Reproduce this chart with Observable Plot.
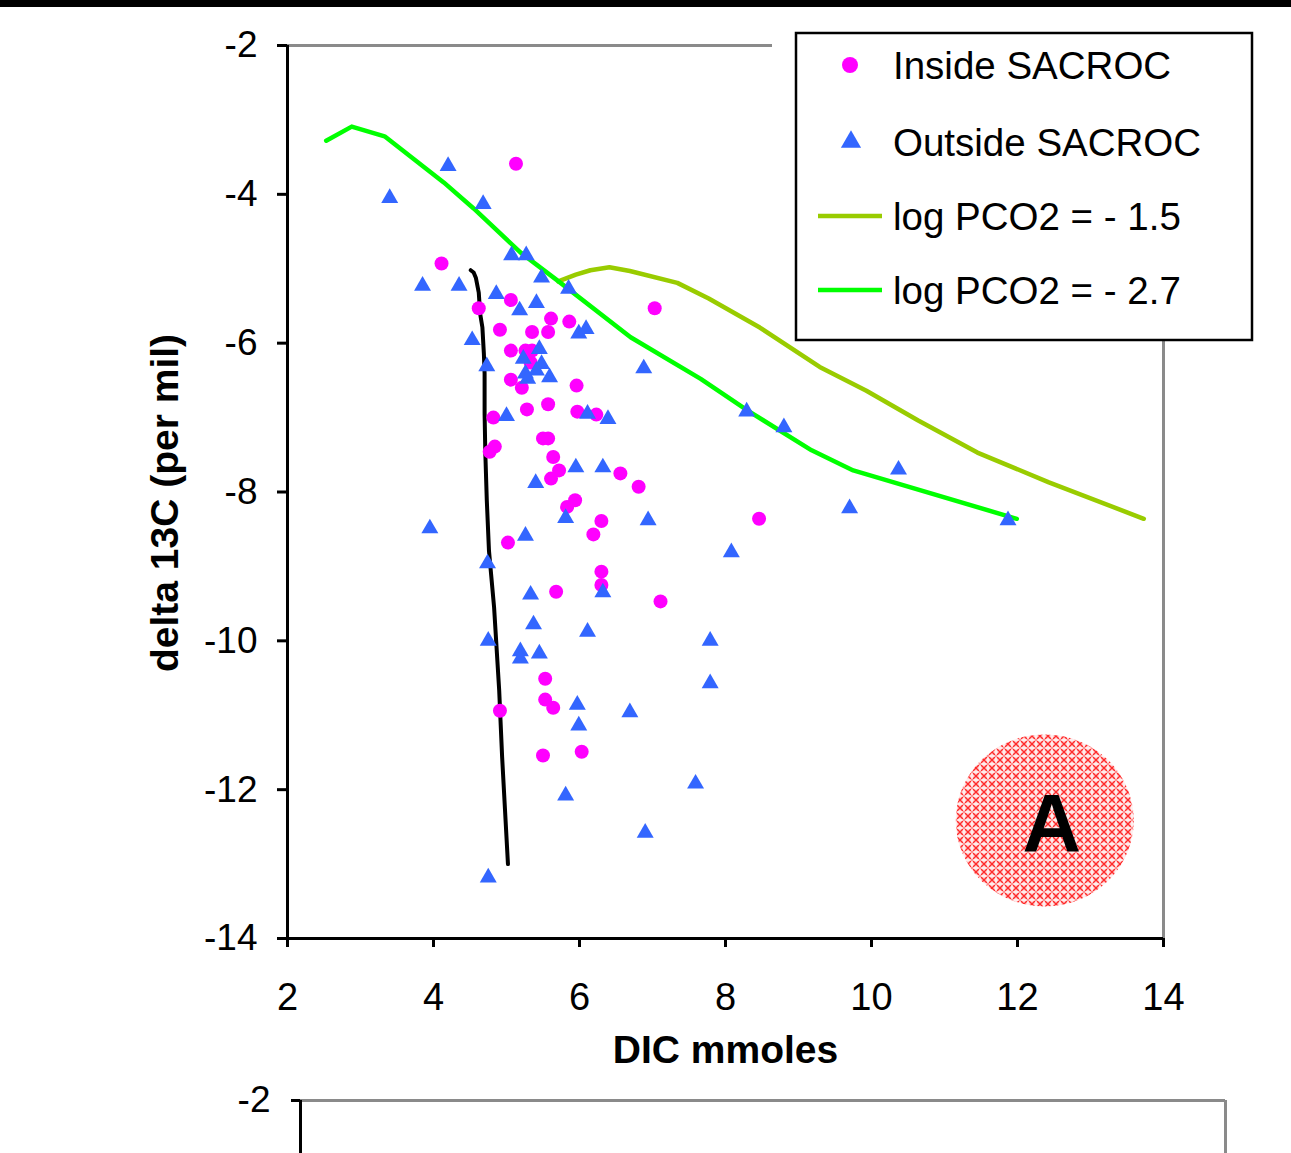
<!DOCTYPE html>
<html>
<head>
<meta charset="utf-8">
<script src="https://cdn.jsdelivr.net/npm/d3@7"></script>
<script src="https://cdn.jsdelivr.net/npm/@observablehq/plot@0.6"></script>
<style>
html, body { margin: 0; padding: 0; background: #fff; overflow: hidden; }
#page { position: relative; width: 1291px; height: 1153px; overflow: hidden; background: #fff; }
#page svg { display: block; }
</style>
</head>
<body>
<div id="page"></div>
<script>
// ---------- data ----------
const xTicks = [2, 4, 6, 8, 10, 12, 14];
const yTicks = [-14, -12, -10, -8, -6, -4, -2];

// Inside SACROC (magenta circles)
const insideX = [5.13, 4.11, 4.62, 5.06, 5.61, 5.86, 7.03, 4.91, 5.35, 5.57, 5.06, 5.26, 5.35, 5.33, 5.06, 5.21, 5.28, 5.57, 5.96, 5.97, 6.23, 4.82, 5.50, 5.57, 4.84, 4.77, 5.64, 5.72, 5.61, 6.56, 6.81, 5.94, 5.83, 6.30, 6.19, 5.02, 8.46, 6.30, 6.30, 5.68, 7.11, 5.53, 5.53, 5.64, 4.91, 5.50, 6.03];
const insideY = [-3.59, -4.93, -5.53, -5.42, -5.67, -5.71, -5.53, -5.82, -5.85, -5.85, -6.10, -6.10, -6.10, -6.26, -6.49, -6.60, -6.89, -6.82, -6.57, -6.92, -6.96, -7.00, -7.28, -7.28, -7.39, -7.46, -7.53, -7.71, -7.82, -7.75, -7.93, -8.11, -8.20, -8.39, -8.57, -8.68, -8.36, -9.07, -9.25, -9.34, -9.47, -10.51, -10.79, -10.90, -10.94, -11.54, -11.49];

// Outside SACROC (blue triangles)
const outsideX = [4.20, 3.40, 4.68, 5.07, 5.27, 5.48, 5.85, 3.85, 4.35, 4.86, 5.41, 5.18, 4.53, 5.99, 6.09, 5.45, 5.23, 4.73, 5.48, 5.41, 5.26, 5.29, 5.59, 6.88, 5.00, 6.11, 6.39, 8.29, 8.80, 5.95, 6.32, 5.40, 10.37, 9.70, 11.87, 5.81, 6.94, 3.95, 5.26, 8.08, 4.74, 5.33, 6.32, 5.37, 6.11, 4.75, 7.79, 5.19, 5.19, 5.45, 5.97, 6.69, 5.99, 7.79, 7.59, 5.81, 6.90, 4.75];
const outsideY = [-3.62, -4.05, -4.13, -4.82, -4.82, -5.12, -5.27, -5.23, -5.23, -5.34, -5.46, -5.56, -5.96, -5.87, -5.81, -6.08, -6.21, -6.31, -6.28, -6.37, -6.41, -6.48, -6.46, -6.34, -6.98, -6.95, -7.02, -6.92, -7.13, -7.67, -7.67, -7.88, -7.70, -8.22, -8.38, -8.35, -8.38, -8.49, -8.59, -8.81, -8.96, -9.38, -9.35, -9.78, -9.88, -10.00, -10.00, -10.14, -10.24, -10.17, -10.86, -10.96, -11.14, -10.57, -11.92, -12.08, -12.58, -13.18];

// log PCO2 = -1.5 (yellow-green)
const pco2aX = [5.71, 5.95, 6.15, 6.41, 6.69, 7.34, 7.77, 8.47, 9.29, 9.93, 10.64, 11.45, 12.43, 13.73];
const pco2aY = [-5.17, -5.08, -5.02, -4.98, -5.03, -5.19, -5.40, -5.79, -6.32, -6.64, -7.04, -7.47, -7.87, -8.36];

// log PCO2 = -2.7 (green)
const pco2bX = [2.53, 2.88, 3.33, 4.14, 4.55, 5.19, 5.70, 6.70, 7.66, 8.31, 9.18, 9.75, 11.99];
const pco2bY = [-3.28, -3.09, -3.22, -3.84, -4.19, -4.78, -5.16, -5.92, -6.48, -6.91, -7.44, -7.71, -8.36];

// black reference curve
const blackX = [4.51, 4.55, 4.58, 4.62, 4.64, 4.67, 4.69, 4.70, 4.70, 4.71, 4.73, 4.76, 4.83, 4.90, 4.94, 5.02];
const blackY = [-5.02, -5.05, -5.12, -5.32, -5.61, -5.79, -6.14, -6.41, -6.95, -7.48, -8.11, -8.79, -9.55, -10.67, -11.56, -13.00];

const seriesNames = ["Inside SACROC", "Outside SACROC", "log PCO2 = - 1.5", "log PCO2 = - 2.7"];
const panelLabel = "A";
const annotation = [{x: 12.38, y: -12.42}];

// ---------- build tables ----------
const zip = (xs, ys) => xs.map((x, i) => ({x, y: ys[i]}));
const inside = zip(insideX, insideY);
const outside = zip(outsideX, outsideY);
const pco2a = zip(pco2aX, pco2aY);
const pco2b = zip(pco2bX, pco2bY);
const blackLine = zip(blackX, blackY);

const FONT = '"Liberation Sans", Arial, Helvetica, sans-serif';
const MAGENTA = "#FF00FF", BLUE = "#3366FF", YG = "#99CC00", GREEN = "#00FF00", GRAY = "#8a8a8a";

const main = Plot.plot({
  width: 1291, height: 1060,
  marginLeft: 287, marginRight: 128, marginTop: 45, marginBottom: 122,
  x: {domain: [2, 14]},
  y: {domain: [-14, -2]},
  style: {fontFamily: FONT, fontSize: "37px", color: "#000", background: "#fff", overflow: "visible"},
  marks: [
    Plot.ruleY([-2], {stroke: GRAY, strokeWidth: 3}),
    Plot.ruleX([14], {stroke: GRAY, strokeWidth: 3}),
    Plot.line(blackLine, {x: "x", y: "y", stroke: "#000", strokeWidth: 4, strokeLinejoin: "round"}),
    Plot.line(pco2a, {x: "x", y: "y", stroke: YG, strokeWidth: 4.5, strokeLinejoin: "round"}),
    Plot.line(pco2b, {x: "x", y: "y", stroke: GREEN, strokeWidth: 4.5, strokeLinejoin: "round"}),
    Plot.dot(inside, {x: "x", y: "y", r: 7, fill: MAGENTA}),
    Plot.dot(outside, {x: "x", y: "y", r: 6.3, symbol: "triangle", fill: BLUE}),
    Plot.ruleX([2], {stroke: "#000", strokeWidth: 3}),
    Plot.ruleY([-14], {stroke: "#000", strokeWidth: 3}),
    Plot.axisY({ticks: yTicks, tickSize: 10, tickPadding: 20, strokeWidth: 3, label: null, tickFormat: d => String(d), fontSize: 37}),
    Plot.axisX({ticks: xTicks, tickSize: 9, tickPadding: 36, strokeWidth: 3, label: null, tickFormat: d => String(d), fontSize: 38}),
    Plot.text(["delta 13C (per mil)"], {frameAnchor: "left", rotate: -90, textAnchor: "middle", dx: -122, dy: 11, fontWeight: "bold", fontSize: 39}),
    Plot.text(["DIC mmoles"], {frameAnchor: "bottom", dy: 112, fontWeight: "bold", fontSize: 39, lineAnchor: "middle"})
  ]
});

const svg = d3.select(main);
const sx = main.scale("x"), sy = main.scale("y");

// pattern for annotation disk
const defs = svg.append("defs");
const pat = defs.append("pattern").attr("id", "hatch").attr("patternUnits", "userSpaceOnUse")
  .attr("width", 8).attr("height", 8);
pat.append("rect").attr("width", 8).attr("height", 8).attr("fill", "#ffd6d6");
pat.append("path").attr("d", "M0,0L8,8M8,0L0,8").attr("stroke", "#ff2a2a").attr("stroke-width", 1.4);
pat.append("rect").attr("x", 3.3).attr("y", 0).attr("width", 1.4).attr("height", 8).attr("fill", "#fff").attr("opacity", 0.8);
pat.append("rect").attr("x", 0).attr("y", 3.3).attr("width", 8).attr("height", 1.4).attr("fill", "#fff").attr("opacity", 0.8);
pat.append("rect").attr("x", 3.3).attr("y", 3.3).attr("width", 1.4).attr("height", 1.4).attr("fill", "#ff4040");

// annotation disk with label
const ax = sx.apply(annotation[0].x), ay = sy.apply(annotation[0].y);
svg.append("ellipse").attr("cx", ax).attr("cy", ay).attr("rx", 89).attr("ry", 86).attr("fill", "url(#hatch)");
svg.append("text").attr("x", ax + 7).attr("y", ay + 31).attr("text-anchor", "middle")
  .attr("font-family", FONT).attr("font-weight", "bold").attr("font-size", 81).attr("fill", "#000").text(panelLabel);

// black bar at top
svg.append("rect").attr("x", 0).attr("y", 0).attr("width", 1291).attr("height", 7).attr("fill", "#000");

// legend
const lg = svg.append("g").attr("font-family", FONT).attr("font-size", 38.5).attr("text-anchor", "start");
lg.append("rect").attr("x", 772).attr("y", 20).attr("width", 500).attr("height", 308).attr("fill", "#fff");
lg.append("rect").attr("x", 796).attr("y", 33).attr("width", 456).attr("height", 307)
  .attr("fill", "#fff").attr("stroke", "#000").attr("stroke-width", 2.5);
const rowsY = [65, 142, 216, 290];
lg.append("circle").attr("cx", 850).attr("cy", rowsY[0]).attr("r", 8).attr("fill", MAGENTA);
lg.append("path").attr("transform", `translate(851,${rowsY[1]})`)
  .attr("d", d3.symbol(d3.symbolTriangle, Math.PI * 7.5 * 7.5)()).attr("fill", BLUE);
lg.append("line").attr("x1", 818).attr("x2", 882).attr("y1", rowsY[2]).attr("y2", rowsY[2]).attr("stroke", YG).attr("stroke-width", 4.5);
lg.append("line").attr("x1", 818).attr("x2", 882).attr("y1", rowsY[3]).attr("y2", rowsY[3]).attr("stroke", GREEN).attr("stroke-width", 4.5);
seriesNames.forEach((name, i) => {
  lg.append("text").attr("x", 893).attr("y", rowsY[i]).attr("dy", "0.36em").attr("text-anchor", "start").attr("fill", "#000").text(name);
});

document.getElementById("page").appendChild(main);

// second (cut-off) panel below: only its top tick is visible
const second = Plot.plot({
  width: 1291, height: 900,
  marginLeft: 300, marginRight: 66, marginTop: 40, marginBottom: 40,
  x: {domain: [2, 14], axis: null},
  y: {domain: [-14, -2]},
  style: {fontFamily: FONT, fontSize: "37px", color: "#000", background: "#fff"},
  marks: [
    Plot.ruleY([-2], {stroke: GRAY, strokeWidth: 3}),
    Plot.ruleX([14], {stroke: GRAY, strokeWidth: 3}),
    Plot.ruleX([2], {stroke: "#000", strokeWidth: 3}),
    Plot.axisY({ticks: [-2], tickSize: 9, tickPadding: 21, strokeWidth: 3, label: null, tickFormat: d => String(d), fontSize: 37})
  ]
});
document.getElementById("page").appendChild(second);
</script>
</body>
</html>
